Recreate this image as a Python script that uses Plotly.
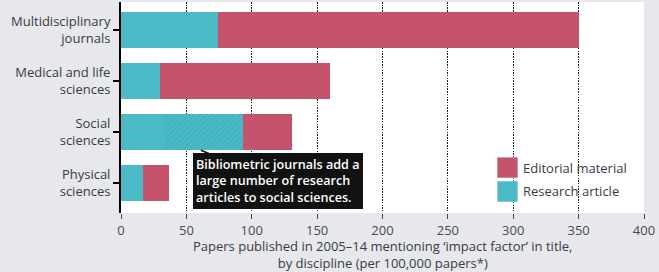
import plotly.graph_objects as go

categories = ["Multidisciplinary<br>journals", "Medical and life<br>sciences", "Social<br>sciences", "Physical<br>sciences"]
research_article = [74, 30, 34, 17]
research_bibliometric = [0, 0, 59, 0]
editorial_material = [276, 130, 38, 20]
x_ticks = [0, 50, 100, 150, 200, 250, 300, 350, 400]
legend_labels = ["Editorial material", "Research article"]
x_title = "Papers published in 2005–14 mentioning ‘impact factor’ in title,<br>by discipline (per 100,000 papers*)"

TEAL = "#4cb9c7"
RED = "#c4536b"
BG = "#e6e8eb"
FONT = "Open Sans"
TXT = "#3a3a48"

fig = go.Figure()
fig.add_trace(go.Bar(y=categories, x=research_article, orientation="h", name="Research article",
                     marker=dict(color=TEAL, line=dict(width=0)), width=0.7, showlegend=False))
fig.add_trace(go.Bar(y=categories, x=research_bibliometric, orientation="h", name="Research article (bibliometric)",
                     marker=dict(color=TEAL, line=dict(width=0),
                                 pattern=dict(shape="/", fgcolor="#35a3b1", bgcolor=TEAL, size=4, solidity=0.3)),
                     width=0.7, showlegend=False))
fig.add_trace(go.Bar(y=categories, x=editorial_material, orientation="h", name="Editorial material",
                     marker=dict(color=RED, line=dict(width=0)), width=0.7, showlegend=False))

# annotation box
fig.add_annotation(x=61, y=2.36, xref="x", yref="y",
                   text="Bibliometric journals add a<br>large number of research<br>articles to social sciences.",
                   showarrow=True, arrowhead=0, arrowwidth=1.5, arrowcolor="#111",
                   ax=77, ay=31, align="left", bgcolor="#111111", bordercolor="#111111", borderpad=2,
                   font=dict(family=FONT, size=12.6, color="white", weight=600))

# x-axis title
fig.add_annotation(xref="paper", yref="paper", x=0.5, y=-0.199, text=x_title, showarrow=False,
                   xanchor="center", yanchor="middle", align="center", borderpad=0,
                   font=dict(family=FONT, size=13, color=TXT))

# legend (custom swatches)
swatch_colors = [RED, TEAL]
swatch_y = [(0.166, 0.265), (0.052, 0.152)]
for lab, col, (y0, y1) in zip(legend_labels, swatch_colors, swatch_y):
    fig.add_shape(type="rect", xref="paper", yref="paper", x0=0.719, x1=0.759, y0=y0, y1=y1,
                  fillcolor=col, line=dict(color="rgba(255,255,255,0.6)", width=1))
    fig.add_annotation(xref="paper", yref="paper", x=0.765, y=(y0 + y1) / 2, text=lab,
                       showarrow=False, xanchor="left", yanchor="middle",
                       font=dict(family=FONT, size=13, color=TXT))

fig.update_layout(
    width=659, height=272,
    barmode="stack",
    paper_bgcolor=BG, plot_bgcolor="white",
    margin=dict(l=121, r=15, t=2, b=59),
    font=dict(family=FONT, size=13, color=TXT),
    showlegend=False,
    xaxis=dict(range=[0, 400], tickvals=x_ticks, showgrid=True, gridcolor="#1a1a1a", griddash="1.5px,1.2px",
               gridwidth=1.4, zeroline=False, ticks="outside", ticklen=5, tickwidth=1.3, tickcolor="#444",
               tickfont=dict(size=13, color="#4a4a55"),
               automargin=False),
    yaxis=dict(range=[3.59, -0.55], showline=True, linecolor="black", linewidth=2,
               ticks="outside", ticklen=6, tickcolor="black", tickwidth=1.5, automargin=False,
               tickfont=dict(size=13, color=TXT), showgrid=False, zeroline=False),
)

fig.write_html("out.html", config={"displayModeBar": False},
               post_script="document.body.style.margin='0';document.body.style.overflow='hidden';")
